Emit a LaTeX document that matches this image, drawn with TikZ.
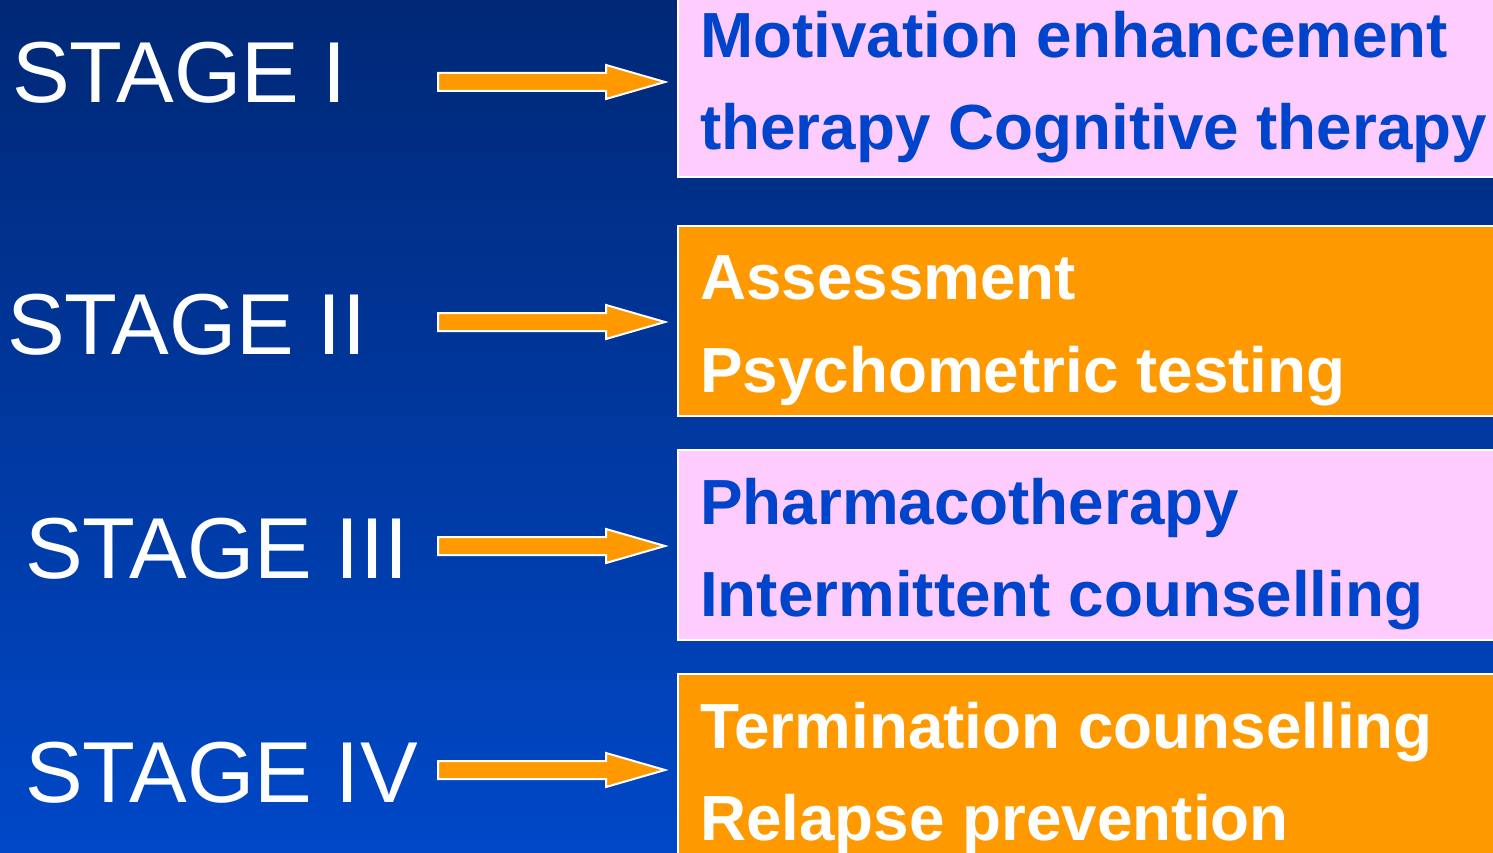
\documentclass[tikz,border=0pt]{standalone}
\usepackage{fontspec}
\setmainfont{Liberation Sans}
\usetikzlibrary{calc}
\definecolor{bgtop}{RGB}{0,40,118}
\definecolor{bgbot}{RGB}{0,72,200}
\definecolor{pinkbox}{RGB}{255,204,255}
\definecolor{orangebox}{RGB}{255,153,0}
\definecolor{bluetext}{RGB}{0,68,204}
\tikzset{
  stagelabel/.style={anchor=base west, inner sep=0pt, text=white, font=\fontsize{86.5}{86.5}\selectfont},
  boxline/.style={anchor=base west, inner sep=0pt, font=\bfseries\fontsize{63.8}{63.8}\selectfont},
  pinkstyle/.style={draw=white, line width=2.5pt, fill=pinkbox},
  orangestyle/.style={draw=white, line width=2.5pt, fill=orangebox},
  blockarrow/.style={draw=white, line width=2pt, fill=orangebox, line join=miter},
}
\begin{document}
\begin{tikzpicture}[x=1pt,y=-1pt]
\useasboundingbox (0,0) rectangle (1493,853);
\clip (0,0) rectangle (1493,853);
\shade[top color=bgtop, bottom color=bgbot] (0,0) rectangle (1493,853);

% boxes
\path[pinkstyle] (678,-10) rectangle (1510,177);
\path[orangestyle] (678,226) rectangle (1510,416);
\path[pinkstyle] (678,450) rectangle (1510,640);
\path[orangestyle] (678,674) rectangle (1510,870);
\coordinate (b1) at (678,82);
\coordinate (b2) at (678,322);
\coordinate (b3) at (678,546);
\coordinate (b4) at (678,770);

% stage labels
\node[stagelabel] (s1) at (12,103) {STAGE I};
\node[stagelabel] (s2) at (7,354) {STAGE II};
\node[stagelabel] (s3) at (25,578) {STAGE III};
\node[stagelabel] (s4) at (25,802) {STAGE IV};

% box texts
\node[boxline, text=bluetext] (t1a) at (700,58) {Motivation enhancement};
\node[boxline, text=bluetext] (t1b) at (700,150) {therapy Cognitive therapy};
\node[boxline, text=white] (t2a) at (700,299) {Assessment};
\node[boxline, text=white] (t2b) at (700,392) {Psychometric testing};
\node[boxline, text=bluetext] (t3a) at (700,524) {Pharmacotherapy};
\node[boxline, text=bluetext] (t3b) at (700,616) {Intermittent counselling};
\node[boxline, text=white] (t4a) at (700,748) {Termination counselling};
\node[boxline, text=white] (t4b) at (700,840) {Relapse prevention};

% arrows
\foreach \i/\yy in {1/82,2/322,3/546,4/770}{
  \coordinate (a\i) at (438,\yy);
  \draw[blockarrow] ($(a\i)+(0,-9)$) -- ($(a\i)+(168,-9)$) -- ($(a\i)+(168,-17)$)
     -- ($(b\i)+(-13,0)$) -- ($(a\i)+(168,17)$) -- ($(a\i)+(168,9)$) -- ($(a\i)+(0,9)$) -- cycle;
}
\end{tikzpicture}
\end{document}
